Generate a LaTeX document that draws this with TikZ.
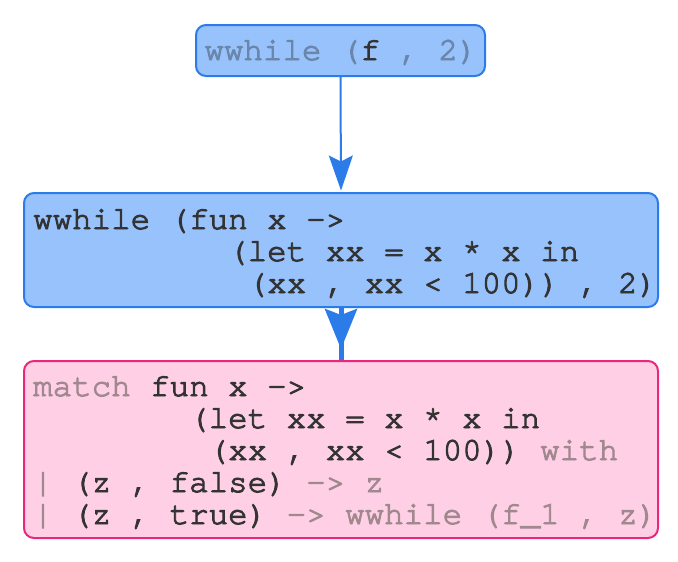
\documentclass[tikz,border=0pt]{standalone}
\usepackage{fontspec}
\setmonofont{TeX Gyre Cursor}[FakeBold=3]
\usetikzlibrary{arrows.meta}
\definecolor{bfill}{HTML}{97C2FC}
\definecolor{bedge}{HTML}{2B7CE9}
\definecolor{pfill}{HTML}{FFD0E5}
\definecolor{pedge}{HTML}{E8287D}
\definecolor{dark}{HTML}{333333}
\definecolor{bgray}{HTML}{6A86AA}
\definecolor{pgray}{HTML}{A0888F}
\newcommand{\codefont}{\ttfamily\fontsize{32.5}{32}\selectfont}
\newcommand{\indsp}[1]{\hphantom{#1}}
\tikzset{
  bluebox/.style={draw=bedge, fill=bfill, line width=2pt, rounded corners=10pt, inner sep=0pt},
  pinkbox/.style={draw=pedge, fill=pfill, line width=2pt, rounded corners=10pt, inner sep=0pt},
  code/.style={inner sep=0pt, anchor=base west, text=dark, font=\codefont},
  edge/.style={draw=bedge, color=bedge}
}
\begin{document}
\begin{tikzpicture}[x=1pt,y=-1pt]
\useasboundingbox (0,0) rectangle (678,562);
% boxes
\node[bluebox, minimum width=289pt, minimum height=51pt] (b1) at (340.5,50.5) {};
\node[bluebox, minimum width=634pt, minimum height=114pt] (b2) at (341,250) {};
\node[pinkbox, minimum width=634pt, minimum height=177pt] (b3) at (341,449.5) {};
% texts
\node[code, anchor=base] (t1) at (341,60) {\textcolor{bgray}{wwhile (}f\textcolor{bgray}{\ , 2)}};
\node[code] (t2) at (33,229) {\begin{tabular}[t]{@{}l@{}}
wwhile (fun x ->\\
\indsp{xxxxxxxxxx}(let xx = x * x in\\
\indsp{xxxxxxxxxxx}(xx , xx < 100)) , 2)
\end{tabular}};
\node[code] (t3) at (33,396) {\begin{tabular}[t]{@{}l@{}}
\textcolor{pgray}{match} fun x ->\\
\indsp{xxxxxxxx}(let xx = x * x in\\
\indsp{xxxxxxxxx}(xx , xx < 100)) \textcolor{pgray}{with}\\
\textcolor{pgray}{|} (z , false) \textcolor{pgray}{-> z}\\
\textcolor{pgray}{|} (z , true) \textcolor{pgray}{-> wwhile (f\_1 , z)}
\end{tabular}};
% connectors
\draw[edge, line width=2pt, -{Stealth[length=35pt,width=24pt,inset=6pt]}, shorten >=1.5pt] (b1.south) -- (b2.north);
\draw[edge, line width=5pt] (b2.south) -- (b3.north);
\draw[edge, line width=5pt, -{Stealth[length=40pt,width=32pt,inset=6pt]}, shorten >=11pt] (b2.south) -- (b3.north);
\end{tikzpicture}
\end{document}
